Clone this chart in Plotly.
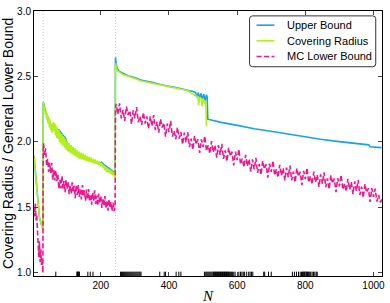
import plotly.graph_objects as go

# ---------------- data ----------------
# Upper bound
ub_n = [4, 6, 8, 10, 12, 14, 16, 18, 20, 22, 24, 26, 28, 30,
        31, 35, 39, 43, 47, 51, 55, 59, 61, 65, 69, 73, 77, 81, 85, 89, 93, 97, 101,
        107, 113, 119, 125, 131, 137, 142, 148, 154, 160, 166, 172, 178, 184, 190, 196,
        202, 208, 214, 220, 226, 232, 238, 242,
        243, 245, 248, 252, 260, 280, 300, 320, 350, 380, 420, 450, 460, 470, 478,
        482, 486, 490, 494, 498, 502, 506, 510, 512,
        514, 553, 601, 650, 699, 748, 796, 845, 893, 942, 986, 990, 1024]
ub = [1.893, 1.833, 1.773, 1.723, 1.673, 1.583, 1.493, 1.453, 1.423, 1.403, 1.383, 1.363, 1.348, 1.333,
      2.305, 2.255, 2.225, 2.20, 2.175, 2.15, 2.115, 2.095, 2.14, 2.125, 2.105, 2.09, 2.092, 2.075, 2.065, 2.05, 2.04, 2.025, 1.99,
      1.975, 1.96, 1.945, 1.935, 1.92, 1.91, 1.90, 1.895, 1.885, 1.875, 1.87, 1.865, 1.855, 1.85, 1.84, 1.835,
      1.845, 1.83, 1.815, 1.805, 1.795, 1.785, 1.77, 1.755,
      2.645, 2.60, 2.56, 2.545, 2.53, 2.505, 2.49, 2.47, 2.455, 2.435, 2.415, 2.40, 2.395, 2.385, 2.378,
      2.34, 2.375, 2.33, 2.37, 2.32, 2.365, 2.315, 2.36, 2.34,
      2.173, 2.149, 2.126, 2.10, 2.081, 2.059, 2.042, 2.02, 2.004, 1.99, 1.977, 1.962, 1.956]

# Covering radius
cr_n = [4, 6, 8, 10, 12, 14, 16, 18, 20, 22, 24, 26, 28, 30,
        31, 33, 35, 37, 39, 41, 43, 45, 47, 49, 51, 53, 55, 57, 59, 61, 63, 65, 67, 69,
        71, 73, 75, 77, 79, 81, 83, 85, 87, 89, 91, 93, 95, 97, 99, 101,
        104, 107, 110, 113, 116, 119, 122, 125, 128, 131, 134, 137,
        139, 142, 145, 148, 151, 154, 157, 160, 163, 166, 169, 172, 175, 178, 181, 184,
        187, 190, 193, 196, 199, 202, 205, 208, 211, 214, 217, 220, 223, 226, 229, 232,
        235, 238, 241, 242,
        243, 245, 247, 250, 255, 260, 265, 270, 280, 290, 300, 310, 320, 330, 340, 350,
        360, 370, 380, 390, 400, 410, 420, 430, 440, 450, 455, 460, 465, 470, 475, 480,
        485, 487, 490, 495, 497, 499, 502, 505, 508, 510]
cr = [1.89, 1.83, 1.77, 1.72, 1.67, 1.58, 1.49, 1.45, 1.42, 1.40, 1.38, 1.36, 1.345, 1.33,
      2.305, 2.26, 2.27, 2.21, 2.24, 2.17, 2.215, 2.14, 2.19, 2.11, 2.165, 2.09, 2.13, 2.07, 2.11, 2.15, 2.08, 2.14, 2.05, 2.12,
      2.03, 2.10, 2.02, 2.09, 2.00, 2.07, 1.99, 2.06, 1.975, 2.045, 1.965, 2.035, 1.95, 2.02, 1.94, 2.00,
      1.925, 1.99, 1.915, 1.975, 1.905, 1.96, 1.895, 1.95, 1.885, 1.935, 1.875, 1.925,
      1.87, 1.915, 1.865, 1.91, 1.86, 1.90, 1.855, 1.89, 1.85, 1.885, 1.845, 1.88, 1.84, 1.87, 1.835, 1.865,
      1.83, 1.855, 1.825, 1.85, 1.815, 1.84, 1.805, 1.825, 1.785, 1.81, 1.77, 1.80, 1.765, 1.79, 1.755, 1.78,
      1.745, 1.77, 1.725, 1.72,
      2.60, 2.57, 2.55, 2.54, 2.53, 2.525, 2.515, 2.51, 2.50, 2.49, 2.48, 2.475, 2.465, 2.46, 2.455, 2.45,
      2.44, 2.435, 2.43, 2.425, 2.42, 2.415, 2.41, 2.405, 2.40, 2.395, 2.39, 2.385, 2.37, 2.365, 2.36, 2.35,
      2.345, 2.28, 2.34, 2.33, 2.27, 2.33, 2.32, 2.29, 2.31, 2.12]

# Monte-Carlo lower bound
mc_n = [4, 6, 8, 10, 12, 14, 16, 18, 20, 22, 24, 26, 28, 30,
        31, 32, 35, 38, 41, 44, 47, 50, 53, 56, 59, 62, 65, 68, 71, 74, 77, 80, 83, 86, 89,
        92, 95, 98, 101, 104, 107, 110, 113, 116, 119, 122, 125, 128, 131, 134, 137, 140,
        143, 146, 149, 152, 155, 158, 161, 164, 167, 170, 173, 176, 179, 182, 185, 188, 191,
        194, 197, 200, 203, 206, 209, 212, 215, 218, 221, 224, 227, 230, 233, 236, 239, 242,
        243, 245, 250, 255, 260, 265, 270, 275, 280, 285, 290, 295, 300, 305, 310, 315, 320,
        325, 330, 335, 340, 345, 350, 355, 360, 365, 370, 375, 380, 385, 390, 395, 400,
        405, 410, 415, 420, 425, 430, 435, 440, 445, 450, 455, 460, 465, 470, 475, 480,
        485, 490, 495, 500, 505, 510, 515, 520, 525, 530, 535, 540, 545, 550, 555, 560,
        565, 570, 575, 580, 585, 590, 595, 600, 605, 610, 615, 620, 625, 630, 635, 640,
        645, 650, 655, 660, 665, 670, 675, 680, 685, 690, 695, 700, 705, 710, 715, 720,
        725, 730, 735, 740, 745, 750, 755, 760, 765, 770, 775, 780, 785, 790, 795, 800,
        805, 810, 815, 820, 825, 830, 835, 840, 845, 850, 855, 860, 865, 870, 875, 880,
        885, 890, 895, 900, 905, 910, 915, 920, 925, 930, 935, 940, 945, 950, 955, 960,
        965, 970, 975, 980, 985, 990, 995, 1000, 1005, 1010, 1015, 1020, 1024]
mc = [1.50, 1.43, 1.53, 1.40, 1.44, 1.30, 1.26, 1.12, 1.24, 1.08, 1.18, 1.06, 1.10, 1.00,
      1.95, 1.99, 1.90, 1.95, 1.82, 1.87, 1.77, 1.84, 1.76, 1.84, 1.71, 1.785, 1.705, 1.78, 1.70, 1.75, 1.64, 1.71, 1.645, 1.74, 1.645,
      1.70, 1.615, 1.71, 1.64, 1.695, 1.60, 1.67, 1.605, 1.69, 1.62, 1.665, 1.57, 1.67, 1.595, 1.67, 1.58, 1.635,
      1.56, 1.67, 1.585, 1.63, 1.55, 1.635, 1.56, 1.64, 1.545, 1.60, 1.52, 1.615, 1.55, 1.63, 1.525, 1.59, 1.51,
      1.605, 1.53, 1.59, 1.495, 1.57, 1.51, 1.585, 1.49, 1.55, 1.475, 1.56, 1.495, 1.54, 1.47, 1.535, 1.47, 1.51,
      2.26, 2.29, 2.21, 2.295, 2.18, 2.245, 2.16, 2.27, 2.205, 2.24, 2.135, 2.24, 2.18, 2.265, 2.15, 2.195, 2.13,
      2.225, 2.14, 2.195, 2.10, 2.195, 2.12, 2.205, 2.09, 2.155, 2.07, 2.175, 2.11, 2.145, 2.04, 2.14, 2.075,
      2.16, 2.04, 2.085, 2.02, 2.11, 2.025, 2.075, 1.98, 2.07, 1.995, 2.075, 1.96, 2.025, 1.94, 2.045, 1.98,
      2.02, 1.915, 2.02, 1.96, 2.045, 1.93, 1.975, 1.91, 2.005, 1.92, 1.975, 1.88, 1.975, 1.90, 1.985, 1.87,
      1.935, 1.85, 1.955, 1.89, 1.925, 1.82, 1.925, 1.86, 1.944, 1.828, 1.872, 1.806, 1.90, 1.814, 1.868, 1.772,
      1.866, 1.79, 1.877, 1.764, 1.831, 1.748, 1.855, 1.792, 1.829, 1.726, 1.833, 1.77, 1.857, 1.744, 1.791, 1.728,
      1.825, 1.742, 1.799, 1.706, 1.803, 1.73, 1.818, 1.705, 1.772, 1.69, 1.798, 1.735, 1.772, 1.67, 1.778, 1.715,
      1.802, 1.69, 1.738, 1.675, 1.772, 1.69, 1.748, 1.655, 1.752, 1.68, 1.767, 1.654, 1.721, 1.638, 1.745, 1.682,
      1.719, 1.616, 1.723, 1.66, 1.748, 1.635, 1.682, 1.62, 1.718, 1.635, 1.692, 1.60, 1.698, 1.625, 1.71, 1.594,
      1.658, 1.573, 1.678, 1.612, 1.646, 1.541, 1.646, 1.58, 1.642, 1.543, 1.595, 1.537, 1.56]

# Rug marks (N values)
rug_n = [68, 130, 131, 133, 134, 136, 137, 162, 169, 177,
         258, 261, 264, 267, 270, 273, 276, 279, 282, 285, 288, 291, 294, 297, 300, 303, 306, 309, 312, 315, 318,
         373, 386, 390, 421, 429, 435,
         504, 508, 511, 514, 517, 520, 523, 526, 529, 531, 533, 535, 537, 539, 541, 543, 545, 547, 549, 551,
         553, 555, 557, 559, 561, 563, 565, 567, 569, 571, 573, 575, 577, 580, 583, 586, 590, 594,
         605, 610, 614, 618, 622, 628, 634, 638, 642, 646,
         678, 681, 692, 700,
         762, 768, 774, 780, 785, 789, 792, 794, 796, 798, 800, 802, 804, 806, 808, 810, 813, 816, 820, 824, 828, 832, 835]

special_n = [31, 243]

series_names = ["Upper Bound", "Covering Radius", "MC Lower Bound"]

y_ticks = [1.0, 1.5, 2.0, 2.5, 3.0]
y_tick_text = ["1.0", "1.5", "2.0", "2.5", "3.0"]
x_ticks = [200, 400, 600, 800, 1000]

BLUE = "#1aa1e6"
GREEN = "#b2f01a"
PINK = "#ee1790"
FONT = "Liberation Sans, Arial, sans-serif"
PINK_DASH = "5px,2.5px"

fig = go.Figure()

fig.add_trace(go.Scatter(x=ub_n, y=ub, mode="lines", name=series_names[0], showlegend=False,
                         line=dict(color=BLUE, width=1.6)))
fig.add_trace(go.Scatter(x=cr_n, y=cr, mode="lines", name=series_names[1], showlegend=False,
                         line=dict(color=GREEN, width=1.6)))
fig.add_trace(go.Scatter(x=mc_n, y=mc, mode="lines", name=series_names[2], showlegend=False,
                         line=dict(color=PINK, width=1.6, dash=PINK_DASH)))

# rug
rx, ry = [], []
for n in rug_n:
    rx += [n, n, None]
    ry += [0.975, 1.008, None]
fig.add_trace(go.Scatter(x=rx, y=ry, mode="lines", showlegend=False,
                         line=dict(color="black", width=1), hoverinfo="skip"))

for n in special_n:
    fig.add_shape(type="line", x0=n, x1=n, y0=0, y1=1, xref="x", yref="paper",
                  line=dict(color="#cccccc", width=1, dash="1px,2px"), layer="below")

# ---- legend box drawn in paper coordinates (pixel geometry of the plot area) ----
L, T, PW, PH = 34.0, 5.0, 350.3, 271.0
def px(xp):
    return (xp - L) / PW
def py(yp):
    return (T + PH - yp) / PH

bx0, bx1, by0, by1 = 251, 378, 10, 62
r = 3
path = (f"M {px(bx0 + r)},{py(by0)} L {px(bx1 - r)},{py(by0)} "
        f"Q {px(bx1)},{py(by0)} {px(bx1)},{py(by0 + r)} "
        f"L {px(bx1)},{py(by1 - r)} Q {px(bx1)},{py(by1)} {px(bx1 - r)},{py(by1)} "
        f"L {px(bx0 + r)},{py(by1)} Q {px(bx0)},{py(by1)} {px(bx0)},{py(by1 - r)} "
        f"L {px(bx0)},{py(by0 + r)} Q {px(bx0)},{py(by0)} {px(bx0 + r)},{py(by0)} Z")
fig.add_shape(type="path", path=path, xref="paper", yref="paper",
              fillcolor="white", line=dict(color="#333333", width=1), layer="above")

rows_y = [19.5, 35.5, 51.5]
colors = [BLUE, GREEN, PINK]
dashes = ["solid", "solid", PINK_DASH]
annotations = []
for name, col, dsh, yy in zip(series_names, colors, dashes, rows_y):
    fig.add_shape(type="line", xref="paper", yref="paper",
                  x0=px(258), x1=px(276), y0=py(yy), y1=py(yy),
                  line=dict(color=col, width=1.6, dash=dsh), layer="above")
    annotations.append(dict(text=name, xref="paper", yref="paper", x=px(287), y=py(yy),
                            xanchor="left", yanchor="middle", showarrow=False,
                            font=dict(size=11, family=FONT, color="black")))

annotations += [
    dict(text="Covering Radius / General Lower Bound", xref="paper", yref="paper",
         x=-0.076, y=0.5, xanchor="center", yanchor="middle", textangle=-90,
         showarrow=False, font=dict(size=14, family=FONT)),
    dict(text="<i>N</i>", xref="paper", yref="paper", x=0.5, y=-0.074,
         xanchor="center", yanchor="middle", showarrow=False,
         font=dict(size=15, family="Liberation Serif, DejaVu Serif, serif")),
]

fig.update_layout(
    width=390, height=303,
    margin=dict(l=34, r=6, t=5, b=27),
    paper_bgcolor="white", plot_bgcolor="white",
    font=dict(family=FONT, size=10, color="black"),
    showlegend=False,
    xaxis=dict(range=[4, 1025], tickvals=x_ticks, ticks="inside", ticklen=4,
               showline=True, linecolor="black", linewidth=1, mirror="ticks",
               showgrid=False, zeroline=False, tickfont=dict(size=10)),
    yaxis=dict(range=[0.975, 3.0], tickvals=y_ticks, ticktext=y_tick_text,
               ticks="inside", ticklen=4,
               showline=True, linecolor="black", linewidth=1, mirror="ticks",
               showgrid=False, zeroline=False, tickfont=dict(size=10)),
    annotations=annotations,
)

fig.write_html("out.html", config={"displayModeBar": False},
               post_script="document.body.style.margin='0';document.body.style.overflow='hidden';")
